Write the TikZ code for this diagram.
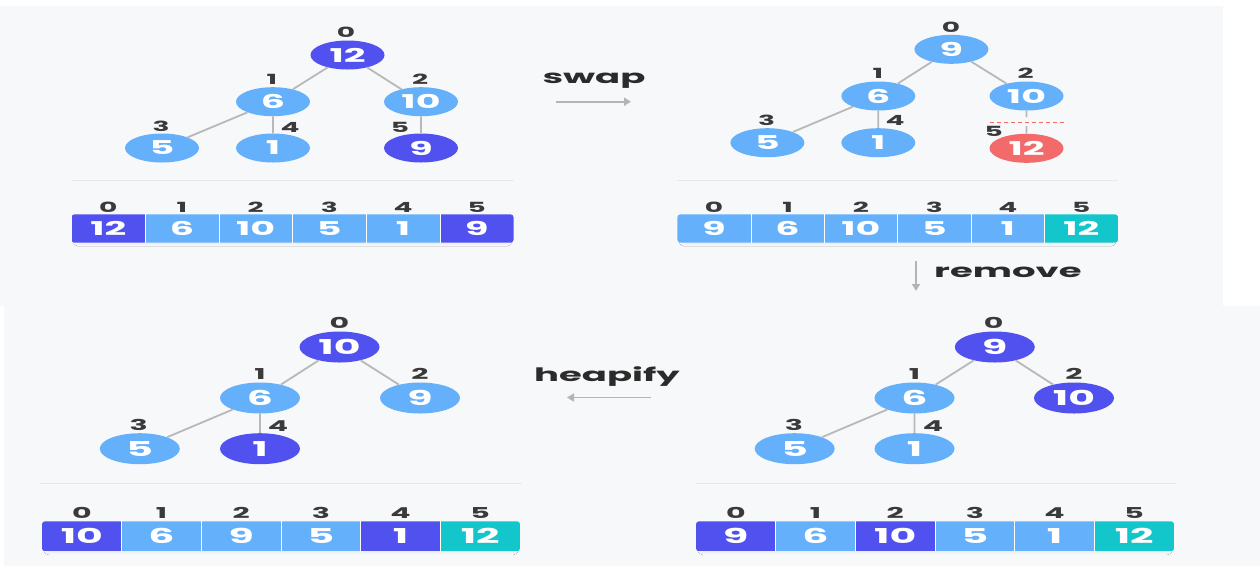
\documentclass[tikz,border=0pt]{standalone}
\usepackage{fontspec}
\usetikzlibrary{shapes.geometric,arrows.meta,shadows.blur}
\newfontfamily\pf{Poppins}[FakeStretch=2.0]
\definecolor{bgc}{HTML}{F7F8FA}
\definecolor{darkb}{HTML}{5151F0}
\definecolor{lightb}{HTML}{64B0FA}
\definecolor{tealc}{HTML}{12C6CB}
\definecolor{redc}{HTML}{F26A6A}
\definecolor{edgeg}{HTML}{B8B8B8}
\definecolor{arrowg}{HTML}{B4B4B4}
\definecolor{sepg}{HTML}{E6E8EB}
\definecolor{idxc}{HTML}{3A3A3A}
\definecolor{ink}{HTML}{2B2B2B}
\tikzset{
  keyA/.style={ellipse, inner sep=0pt, minimum width=74pt, minimum height=29pt,
    text=white, font=\pf\bfseries\fontsize{19}{19}\selectfont},
  keyB/.style={ellipse, inner sep=0pt, minimum width=80pt, minimum height=31pt,
    text=white, font=\pf\bfseries\fontsize{20.5}{20.5}\selectfont},
  fL/.style={fill=lightb}, fD/.style={fill=darkb},
  fR/.style={fill=redc}, fT/.style={fill=tealc},
  idxA/.style={text=idxc, inner sep=0pt, font=\pf\bfseries\fontsize{14}{14}\selectfont},
  idxB/.style={text=idxc, inner sep=0pt, font=\pf\bfseries\fontsize{15}{15}\selectfont},
  cellA/.style={rectangle, inner sep=0pt, text=white,
    font=\pf\bfseries\fontsize{19}{19}\selectfont},
  cellB/.style={rectangle, inner sep=0pt, text=white,
    font=\pf\bfseries\fontsize{20.5}{20.5}\selectfont},
  link/.style={draw=edgeg, line width=1.8pt},
  divider/.style={draw=white, line width=0.9pt},
  sepline/.style={draw=sepg, line width=0.8pt},
  verb/.style={text=ink, inner sep=0pt, font=\pf\bfseries\fontsize{18.5}{18.5}\selectfont},
  flow/.style={draw=arrowg, line width=1.8pt, -{Triangle[length=7pt,width=8pt]}},
}
% one array row: #1 prefix, #2 left x, #3 cell width, #4 centre y, #5 cell height,
% #6 index y, #7 cell style, #8 index style, #9 value/fill list
\newcommand\heaprow[9]{%
  \path[fill=bgc, rounded corners=3pt,
        blur shadow={shadow xshift=0pt, shadow yshift=-3pt, shadow opacity=6, shadow blur radius=2.5pt}]
    ({#2+4},{#4-#5/2+4}) rectangle ({#2+6*#3-4},{#4+#5/2-2});
  \begin{scope}
    \clip[rounded corners=3pt] (#2,{#4-#5/2}) rectangle ({#2+6*#3},{#4+#5/2});
    \foreach \v/\s [count=\i from 0] in {#9} {
      \node[#7, \s, minimum width=#3pt, minimum height=#5pt] (#1\i) at ({#2+(\i+0.5)*#3},#4) {\v};
    }
  \end{scope}
  \foreach \j [evaluate=\j as \k using int(\j-1)] in {1,...,5} {
    \draw[divider] (#1\k.north east) -- (#1\k.south east);
  }
  \foreach \i in {0,...,5} {
    \node[#8] (#1i\i) at ({#2+(\i+0.5)*#3},#6) {\i};
  }
}
\begin{document}
\begin{tikzpicture}[x=1pt,y=-1pt]
\useasboundingbox (0,0) rectangle (1260,566);
% panels
\fill[bgc] (0,6) rectangle (1223,306);
\fill[bgc] (4,306) rectangle (1260,566);

% ---------- top left: before the swap ----------
\node[keyA,fD] (a0) at (347.5,55) {12};
\node[keyA,fL] (a1) at (273,101.7) {6};
\node[keyA,fL] (a2) at (421,101.7) {10};
\node[keyA,fL] (a3) at (162,148) {5};
\node[keyA,fL] (a4) at (273,148) {1};
\node[keyA,fD] (a5) at (421,148) {9};
\path[link] (a0) -- (a1) (a0) -- (a2) (a1) -- (a3) (a1) -- (a4) (a2) -- (a5);
\node[idxA] (la0) at (346,32) {0};
\node[idxA] (la1) at (272,79) {1};
\node[idxA] (la2) at (420,79) {2};
\node[idxA] (la3) at (161,126) {3};
\node[idxA] (la4) at (290,127) {4};
\node[idxA] (la5) at (400,127) {5};
\coordinate (sa1) at (71.5,180); \coordinate (sa2) at (514,180);
\draw[sepline] (sa1) -- (sa2);
\heaprow{A}{71.5}{73.67}{228.5}{28.4}{207}{cellA}{idxA}{12/fD,6/fL,10/fL,5/fL,1/fL,9/fD}

% swap arrow
\node[verb] (swap) at (594,81) {swap};
\coordinate (sw1) at (556,101.7); \coordinate (sw2) at (631,101.7);
\draw[flow] (sw1) -- (sw2);

% ---------- top right: after the swap ----------
\node[keyA,fL] (b0) at (951.4,49.3) {9};
\node[keyA,fL] (b1) at (878.3,96) {6};
\node[keyA,fL] (b2) at (1026.5,96) {10};
\node[keyA,fL] (b3) at (767.4,142.7) {5};
\node[keyA,fL] (b4) at (878.3,142.7) {1};
\node[keyA,fR] (b5) at (1026.5,148.3) {12};
\coordinate (cut1) at (1026.5,117);
\coordinate (cut2) at (1026.5,126);
\path[link] (b0) -- (b1) (b0) -- (b2) (b1) -- (b3) (b1) -- (b4) (b2) -- (cut1) (cut2) -- (b5);
\coordinate (d1) at (990,122); \coordinate (d2) at (1065,122);
\draw[redc, line width=1pt, dash pattern=on 4pt off 3pt] (d1) -- (d2);
\node[idxA] (lb0) at (951,27) {0};
\node[idxA] (lb1) at (878,73) {1};
\node[idxA] (lb2) at (1025.7,73) {2};
\node[idxA] (lb3) at (766.6,120) {3};
\node[idxA] (lb4) at (895,120.7) {4};
\node[idxA] (lb5) at (993.6,131.7) {5};
\coordinate (sb1) at (677,180); \coordinate (sb2) at (1118,180);
\draw[sepline] (sb1) -- (sb2);
\heaprow{B}{677.4}{73.43}{228.5}{28.4}{207}{cellA}{idxA}{9/fL,6/fL,10/fL,5/fL,1/fL,12/fT}

% remove arrow
\coordinate (rm1) at (916,261); \coordinate (rm2) at (916,291);
\draw[flow] (rm1) -- (rm2);
\node[verb, anchor=west] (remove) at (934,272) {remove};

% ---------- bottom right: last leaf removed ----------
\node[keyB,fD] (c0) at (994.8,347) {9};
\node[keyB,fL] (c1) at (914.5,398) {6};
\node[keyB,fD] (c2) at (1074,398) {10};
\node[keyB,fL] (c3) at (794.7,448.7) {5};
\node[keyB,fL] (c4) at (914.5,448.7) {1};
\path[link] (c0) -- (c1) (c0) -- (c2) (c1) -- (c3) (c1) -- (c4);
\node[idxB] (lc0) at (993.6,323) {0};
\node[idxB] (lc1) at (914.5,373.7) {1};
\node[idxB] (lc2) at (1074,373.7) {2};
\node[idxB] (lc3) at (794,424.7) {3};
\node[idxB] (lc4) at (933,425.7) {4};
\coordinate (sc1) at (696,483); \coordinate (sc2) at (1176,483);
\draw[sepline] (sc1) -- (sc2);
\heaprow{C}{696}{79.67}{536.3}{30}{513}{cellB}{idxB}{9/fD,6/fL,10/fD,5/fL,1/fL,12/fT}

% heapify arrow
\node[verb] (heapify) at (607,377) {heapify};
\coordinate (hp1) at (651,397.5); \coordinate (hp2) at (567,397.5);
\draw[flow] (hp1) -- (hp2);

% ---------- bottom left: after heapify ----------
\node[keyB,fD] (d0) at (339.5,347) {10};
\node[keyB,fL] (dd1) at (260,398) {6};
\node[keyB,fL] (dd2) at (420,398) {9};
\node[keyB,fL] (dd3) at (139.8,448.7) {5};
\node[keyB,fD] (dd4) at (260,448.7) {1};
\path[link] (d0) -- (dd1) (d0) -- (dd2) (dd1) -- (dd3) (dd1) -- (dd4);
\node[idxB] (ld0) at (339.5,323) {0};
\node[idxB] (ld1) at (260,373.7) {1};
\node[idxB] (ld2) at (420,373.7) {2};
\node[idxB] (ld3) at (138.6,424.7) {3};
\node[idxB] (ld4) at (278,425.7) {4};
\coordinate (sd1) at (40,483); \coordinate (sd2) at (522,483);
\draw[sepline] (sd1) -- (sd2);
\heaprow{D}{42}{79.67}{536.3}{30}{513}{cellB}{idxB}{10/fD,6/fL,9/fL,5/fL,1/fD,12/fT}
\end{tikzpicture}
\end{document}
